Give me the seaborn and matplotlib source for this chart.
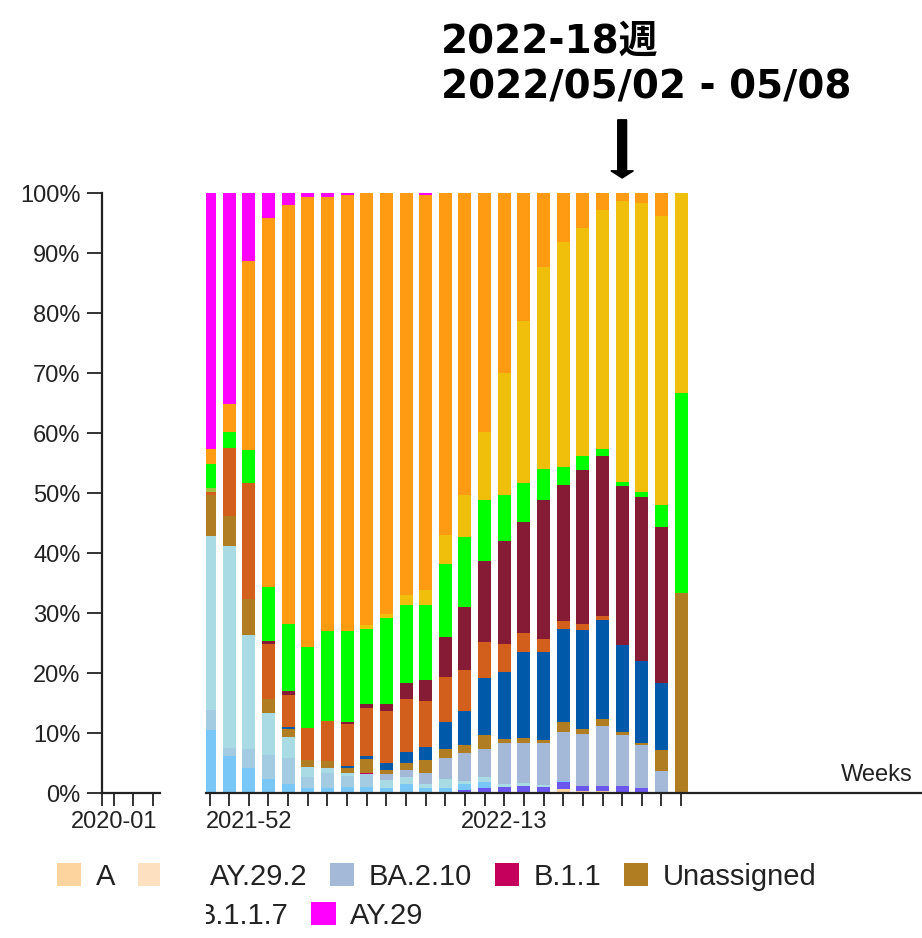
import numpy as np
import pandas as pd
import seaborn as sns
import matplotlib.pyplot as plt
from matplotlib.patches import Patch, Rectangle

# weeks shown on the right-hand (zoomed) part of the axis
weeks = ["2021-50", "2021-51", "2021-52", "2022-01", "2022-02", "2022-03", "2022-04",
         "2022-05", "2022-06", "2022-07", "2022-08", "2022-09", "2022-10", "2022-11",
         "2022-12", "2022-13", "2022-14", "2022-15", "2022-16", "2022-17", "2022-18",
         "2022-19", "2022-20", "2022-21", "2022-22"]
shown_week_labels = ["2021-52", "2022-13"]
left_weeks = ["2020-01", "2020-02", "2020-03"]

# share (%) per lineage, stacked top -> bottom
ay29 = [42.7, 35.2, 11.5, 4.2, 2.0, 0.6, 0.6, 0.4, 0, 0, 0, 0.4, 0, 0, 0, 0, 0, 0, 0, 0, 0, 0, 0, 0, 0]
orange_lin = [2.5, 4.6, 31.5, 61.5, 69.8, 75.0, 72.4, 72.6, 72.0, 70.2, 67.0, 65.8, 57.0, 50.3,
              39.8, 30.0, 21.3, 12.3, 8.2, 5.8, 2.8, 1.4, 1.7, 3.8, 0]
yellow_lin = [0, 0, 0, 0, 0, 0, 0, 0, 0.6, 0.6, 1.7, 2.5, 4.8, 7.1, 11.4, 20.4, 27.0, 33.7,
              37.5, 38.1, 39.8, 46.7, 48.1, 48.2, 33.4]
green_lin = [3.9, 2.7, 5.5, 9.0, 11.2, 13.5, 15.0, 15.2, 12.6, 14.4, 13.0, 12.5, 12.2, 11.6,
             10.1, 7.6, 6.5, 5.2, 3.0, 2.3, 1.2, 0.7, 0.8, 3.6, 33.3]
olive_lin = [0.7, 0, 0, 0, 0, 0, 0, 0, 0, 0, 0, 0, 0, 0, 0, 0, 0, 0, 0, 0, 0, 0, 0, 0, 0]
maroon_lin = [0, 0, 0, 0.4, 0.6, 0, 0, 0.3, 0.6, 1.1, 2.7, 3.5, 6.6, 10.5, 13.6, 17.2, 18.5,
              23.1, 22.6, 25.7, 26.7, 26.6, 27.4, 26.1, 0]
rust_lin = [0.5, 11.4, 19.3, 9.3, 5.4, 5.4, 6.7, 7.0, 8.0, 8.7, 8.7, 7.6, 7.6, 6.8, 6.0, 4.6,
            3.2, 2.2, 1.4, 0.9, 0.6, 0, 0, 0, 0]
blue_lin = [0, 0, 0, 0, 0.3, 0, 0, 0.3, 0.6, 1.1, 1.9, 2.2, 4.4, 5.7, 9.4, 11.2, 14.4, 14.6,
            15.5, 16.6, 16.6, 14.4, 13.6, 11.1, 0]
unassigned = [6.9, 4.9, 6.0, 2.2, 1.3, 1.1, 1.1, 0.8, 2.2, 0.8, 1.1, 2.1, 1.6, 1.4, 2.3, 0.7,
              0.8, 0.5, 1.6, 0.7, 1.1, 0.5, 0.4, 3.5, 33.3]
b11 = [0, 0, 0, 0, 0, 0, 0, 0, 0.2, 0, 0, 0, 0, 0, 0, 0, 0, 0, 0, 0, 0, 0, 0, 0, 0]
ba210 = [0, 0, 0, 0, 0, 0, 0, 0, 0, 0.9, 1.2, 1.9, 3.5, 4.6, 4.7, 6.8, 6.6, 7.0, 8.2, 8.8,
         10.0, 8.5, 7.1, 3.7, 0]
palecyan_lin = [29.0, 33.7, 19.0, 7.1, 3.5, 1.7, 0.9, 0.6, 0, 1.4, 1.2, 0.7, 1.4, 0.5, 0.8,
                0.5, 0.5, 0.4, 0, 0, 0, 0, 0, 0, 0]
lightblue_lin = [3.3, 1.4, 3.2, 4.0, 4.4, 1.9, 2.5, 1.8, 2.2, 0, 0, 0, 0, 0, 0, 0, 0, 0, 0, 0,
                 0, 0, 0, 0, 0]
sky_lin = [10.5, 6.1, 4.2, 2.3, 1.5, 0.8, 0.8, 1.0, 1.0, 0.8, 1.5, 0.8, 0.9, 1.0, 1.0, 0, 0,
           0, 0.2, 0, 0, 0, 0, 0, 0]
purple_lin = [0, 0, 0, 0, 0, 0, 0, 0, 0, 0, 0, 0, 0, 0.5, 0.9, 1.0, 1.2, 1.0, 1.2, 0.8, 0.9,
              1.2, 0.9, 0, 0]
lin_a = [0, 0, 0, 0, 0, 0, 0, 0, 0, 0, 0, 0, 0, 0, 0, 0, 0, 0, 0.6, 0.3, 0.3, 0, 0, 0, 0]

series = {
    "AY.29": ay29, "orange": orange_lin, "yellow": yellow_lin, "green": green_lin,
    "olive": olive_lin, "maroon": maroon_lin, "rust": rust_lin, "blue": blue_lin,
    "Unassigned": unassigned, "B.1.1": b11, "BA.2.10": ba210, "palecyan": palecyan_lin,
    "lightblue": lightblue_lin, "sky": sky_lin, "purple": purple_lin, "A": lin_a,
}
colors = {
    "AY.29": "#ff00ff", "orange": "#ff9b12", "yellow": "#efbf0c", "green": "#00ff00",
    "olive": "#a0c040", "maroon": "#861b35", "rust": "#d2601c", "blue": "#005aa9",
    "Unassigned": "#b07d22", "B.1.1": "#c4005c", "BA.2.10": "#a4b9d8", "palecyan": "#a8dbe3",
    "lightblue": "#a3cce2", "sky": "#78c7f6", "purple": "#6b57ee", "A": "#fdd49e",
    "A.x": "#fde0c0", "AY.29.2": "#c9a2e0", "B.1.1.7": "#9a9a9a",
}

rows = []
for name, vals in series.items():
    for i, v in enumerate(vals):
        rows.append((i, name, v))
df = pd.DataFrame(rows, columns=["week", "lineage", "share"])

sns.set_theme(style="white")
plt.rcParams["font.family"] = ["Liberation Sans", "DejaVu Sans"]
ink = "#222222"

W, H = 922, 938
fig = plt.figure(figsize=(W / 100, H / 100), dpi=100)


def fx(px):
    return px / W


def fy(py):
    return 1 - py / H


ax_l = fig.add_axes([fx(102), fy(793), fx(160) - fx(102), fy(193) - fy(793)])
ax = fig.add_axes([fx(206), fy(793), fx(922) - fx(206), fy(193) - fy(793)])

sns.histplot(data=df, x="week", weights="share", hue="lineage", hue_order=list(series),
             palette=colors, multiple="stack", discrete=True, shrink=0.66,
             linewidth=0, alpha=1, legend=False, ax=ax)

# right (zoomed) axis
ax.set_xlim(-0.18, 36.26)
ax.set_ylim(0, 100)
ax.set_xticks(range(len(weeks)))
ax.set_xticklabels([w if w in shown_week_labels else "" for w in weeks])
ax.set_yticks([])
ax.set_xlabel("")
ax.set_ylabel("")
for s in ["top", "right", "left"]:
    ax.spines[s].set_visible(False)
ax.spines["bottom"].set_color(ink)
ax.spines["bottom"].set_linewidth(1.6)
ax.tick_params(axis="x", bottom=True, direction="out", length=9.5, width=1.3, color=ink,
               labelsize=17, labelcolor=ink, pad=3.5)
ax.text(0.987, 0.012, "Weeks", transform=ax.transAxes, ha="right", va="bottom",
        fontsize=17, color=ink)

# left axis: percentage scale and first week
ax_l.set_xlim(-0.61, 2.36)
ax_l.set_ylim(0, 100)
ax_l.set_xticks([-0.61, 0, 1, 2])
ax_l.set_xticklabels(["", left_weeks[0], "", ""])
ax_l.set_yticks(range(0, 101, 10))
ax_l.set_yticklabels([f"{v}%" for v in range(0, 101, 10)])
for s in ["top", "right"]:
    ax_l.spines[s].set_visible(False)
for s in ["left", "bottom"]:
    ax_l.spines[s].set_color(ink)
    ax_l.spines[s].set_linewidth(1.6)
ax_l.tick_params(axis="x", bottom=True, direction="out", length=9.5, width=1.3, color=ink,
                 labelsize=17, labelcolor=ink, pad=3.5)
ax_l.tick_params(axis="y", left=True, direction="out", length=10.5, width=1.3, color=ink,
                 labelsize=17, labelcolor=ink, pad=5)

# week annotation
title_font = ["DejaVu Sans", "Noto Sans CJK JP"]
fig.text(fx(441), fy(53), "2022-18週", fontsize=28, fontweight="bold", family=title_font,
         va="baseline", ha="left", color="black")
fig.text(fx(441), fy(98), "2022/05/02 - 05/08", fontsize=28, fontweight="bold",
         family=title_font, va="baseline", ha="left", color="black")
ax.arrow(21, 112.2, 0, -9.7, width=0.45, head_width=1.15, head_length=1.2,
         length_includes_head=True, color="black", clip_on=False)


# legend rows
def swatch(name):
    return Patch(facecolor=colors[name], edgecolor="none")


leg_kw = dict(frameon=False, fontsize=21, handlelength=0.83, handleheight=0.83,
              handletextpad=0.5, columnspacing=0.78, borderpad=0, borderaxespad=0,
              loc="center left", labelcolor=ink)
row1a = ["A", "A.x"]
row1b = ["AY.29.2", "BA.2.10", "B.1.1", "Unassigned"]
row2 = ["B.1.1.7", "AY.29"]
fig.legend([swatch(n) for n in row1a], ["A", ""], ncol=2,
           bbox_to_anchor=(fx(57), fy(876.5)), **leg_kw)
fig.legend([swatch(n) for n in row1b], row1b, ncol=4,
           bbox_to_anchor=(fx(171), fy(876.5)), **leg_kw)
fig.legend([swatch(n) for n in row2], row2, ncol=2,
           bbox_to_anchor=(fx(158), fy(916)), **leg_kw)

# blank strip where the view was cut
fig.add_artist(Rectangle((fx(160), 0), fx(206) - fx(160), fy(845), transform=fig.transFigure,
                         facecolor="white", edgecolor="none", zorder=20))
fig.add_artist(Rectangle((fx(148), 0), fx(206) - fx(148), fy(896), transform=fig.transFigure,
                         facecolor="white", edgecolor="none", zorder=20))

fig.savefig("out.png", dpi=100)
